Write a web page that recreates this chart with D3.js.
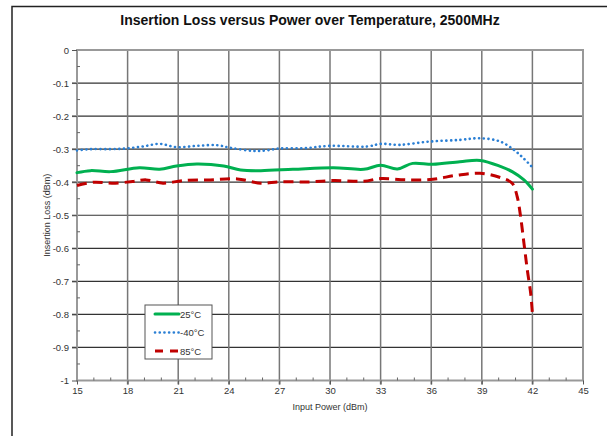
<!DOCTYPE html>
<html>
<head>
<meta charset="utf-8">
<script src="https://cdn.jsdelivr.net/npm/d3@7"></script>
<style>
  html, body { margin: 0; padding: 0; background: #fff; }
  svg { display: block; font-family: "Liberation Sans", Arial, sans-serif; }
</style>
</head>
<body>
<svg id="chart" width="607" height="436"></svg>
<script>
const titleText = "Insertion Loss versus Power over Temperature, 2500MHz";
const xLabel = "Input Power (dBm)";
const yLabel = "Insertion Loss (dBm)";
const xTicks = [15, 18, 21, 24, 27, 30, 33, 36, 39, 42, 45];
const yTicks = [0, -0.1, -0.2, -0.3, -0.4, -0.5, -0.6, -0.7, -0.8, -0.9, -1];
const yTickLabels = ["0", "-0.1", "-0.2", "-0.3", "-0.4", "-0.5", "-0.6", "-0.7", "-0.8", "-0.9", "-1"];
const seriesNames = ["25°C", "-40°C", "85°C"];

const power25 = [15, 15.8, 17, 18.7, 19.9, 20.9, 22.1, 23.7, 24.7, 25.9, 27.8, 30.2, 32, 33, 34, 34.9, 36.1, 37.7, 38.9, 40.1, 40.8, 41.5, 42];
const loss25  = [-0.371, -0.365, -0.368, -0.356, -0.361, -0.351, -0.345, -0.351, -0.363, -0.365, -0.361, -0.356, -0.361, -0.349, -0.36, -0.343, -0.346, -0.338, -0.334, -0.352, -0.368, -0.393, -0.421];

const powerM40 = [15, 15.8, 17, 17.9, 18.9, 19.9, 20.9, 22.1, 23.3, 24.1, 25.4, 26.2, 27, 28.5, 30, 32.2, 33, 34.1, 35.9, 37.7, 38.9, 40.1, 40.9, 41.4, 42];
const lossM40  = [-0.304, -0.3, -0.3, -0.298, -0.292, -0.284, -0.294, -0.29, -0.288, -0.296, -0.305, -0.304, -0.298, -0.297, -0.29, -0.292, -0.284, -0.287, -0.277, -0.272, -0.267, -0.277, -0.302, -0.324, -0.355];

const power85 = [15, 16, 17.1, 18.3, 19.1, 20.1, 21.3, 22.9, 24.5, 25.9, 27, 28.8, 30.2, 32, 33, 34.5, 36.1, 37.5, 38.9, 40.1, 40.8, 41.1, 41.3, 41.5, 41.7, 41.9, 42];
const loss85  = [-0.41, -0.4, -0.403, -0.398, -0.393, -0.403, -0.395, -0.393, -0.39, -0.403, -0.399, -0.399, -0.395, -0.397, -0.389, -0.393, -0.391, -0.379, -0.373, -0.386, -0.403, -0.444, -0.504, -0.585, -0.666, -0.737, -0.797];

const svg = d3.select("#chart");
const pLeft = 77, pRight = 583, pTop = 50, pBottom = 380.5;

const x = d3.scaleLinear().domain([15, 45]).range([pLeft, pRight]);
const y = d3.scaleLinear().domain([-1, 0]).range([pBottom, pTop]);

// outer frame
svg.append("path").attr("d", `M12,436 L12,6.5 L607,6.5`).attr("fill", "none").attr("stroke", "#222").attr("stroke-width", 1.5);

// title
svg.append("text").attr("x", 310).attr("y", 25).attr("text-anchor", "middle")
  .attr("font-size", 14).attr("font-weight", "bold").attr("fill", "#111").text(titleText);

// horizontal gridlines
svg.append("g").selectAll("line").data(yTicks.filter(d => d !== 0 && d !== -1)).join("line")
  .attr("x1", pLeft - 5).attr("x2", pRight).attr("y1", d => y(d)).attr("y2", d => y(d))
  .attr("stroke", "#333").attr("stroke-width", 1.2);

// vertical gridlines
svg.append("g").selectAll("line").data(xTicks.filter(d => d !== 15 && d !== 45)).join("line")
  .attr("x1", d => x(d)).attr("x2", d => x(d)).attr("y1", pTop).attr("y2", pBottom + 4)
  .attr("stroke", "#777").attr("stroke-width", 1.5);

// plot frame
svg.append("rect").attr("x", pLeft).attr("y", pTop).attr("width", pRight - pLeft).attr("height", pBottom - pTop)
  .attr("fill", "none").attr("stroke", "#999").attr("stroke-width", 2);

// axes with d3
const yAxis = d3.axisLeft(y).tickValues(yTicks).tickSize(5).tickPadding(3)
  .tickFormat((d, i) => yTickLabels[i]);
const gy = svg.append("g").attr("transform", `translate(${pLeft},0)`).call(yAxis);
gy.select(".domain").remove();
gy.selectAll("line").attr("stroke", "#555");
gy.selectAll("text").attr("font-size", 9.5).attr("fill", "#333").attr("font-family", "Liberation Sans, Arial, sans-serif");

const xAxis = d3.axisBottom(x).tickValues(xTicks).tickSize(4).tickPadding(3).tickFormat(d3.format("d"));
const gx = svg.append("g").attr("transform", `translate(0,${pBottom})`).call(xAxis);
gx.select(".domain").remove();
gx.selectAll("line").attr("stroke", "#555");
gx.selectAll("text").attr("font-size", 9.5).attr("fill", "#333").attr("font-family", "Liberation Sans, Arial, sans-serif");

// minor ticks
const yMinor = d3.range(1, 20, 2).map(i => -i * 0.05);
svg.append("g").selectAll("line").data(yMinor).join("line")
  .attr("x1", pLeft).attr("x2", pLeft + 3).attr("y1", d => y(d)).attr("y2", d => y(d))
  .attr("stroke", "#666").attr("stroke-width", 1);
const xMinor = d3.range(16, 45).filter(v => v % 3 !== 0);
svg.append("g").selectAll("line").data(xMinor).join("line")
  .attr("x1", d => x(d)).attr("x2", d => x(d)).attr("y1", pBottom).attr("y2", pBottom - 3)
  .attr("stroke", "#666").attr("stroke-width", 1);

// axis titles
svg.append("text").attr("x", 330).attr("y", 410).attr("text-anchor", "middle")
  .attr("font-size", 9).attr("fill", "#333").text(xLabel);
svg.append("text").attr("transform", `translate(50,${(pTop + pBottom) / 2}) rotate(-90)`).attr("text-anchor", "middle")
  .attr("font-size", 9).attr("fill", "#333").text(yLabel);

// series
const styles = [
  { color: "#00b050", dash: null, width: 3, cap: "round" },
  { color: "#2a7fd4", dash: "0.1,4.6", width: 2.6, cap: "round" },
  { color: "#c00000", dash: "10,6", width: 3, cap: "butt" }
];
const data = [
  d3.zip(power25, loss25),
  d3.zip(powerM40, lossM40),
  d3.zip(power85, loss85)
];
const lineCR = d3.line().x(d => x(d[0])).y(d => y(d[1])).curve(d3.curveCatmullRom.alpha(0.5));
svg.append("g").selectAll("path").data(data).join("path")
  .attr("d", d => lineCR(d))
  .attr("fill", "none")
  .attr("stroke", (d, i) => styles[i].color)
  .attr("stroke-width", (d, i) => styles[i].width)
  .attr("stroke-dasharray", (d, i) => styles[i].dash)
  .attr("stroke-linecap", (d, i) => styles[i].cap);

// legend
const lg = svg.append("g");
lg.append("rect").attr("x", 145).attr("y", 305).attr("width", 67).attr("height", 54)
  .attr("fill", "#fff").attr("stroke", "#555").attr("stroke-width", 1);
const legendY = [314, 332.5, 351];
seriesNames.forEach((name, i) => {
  lg.append("line").attr("x1", 155).attr("x2", 179).attr("y1", legendY[i]).attr("y2", legendY[i])
    .attr("stroke", styles[i].color).attr("stroke-width", styles[i].width)
    .attr("stroke-dasharray", i === 2 ? "8,7" : styles[i].dash).attr("stroke-linecap", styles[i].cap);
  lg.append("text").attr("x", 180).attr("y", legendY[i] + 3.5).attr("font-size", 9.5).attr("fill", "#333").text(name);
});
</script>
</body>
</html>
